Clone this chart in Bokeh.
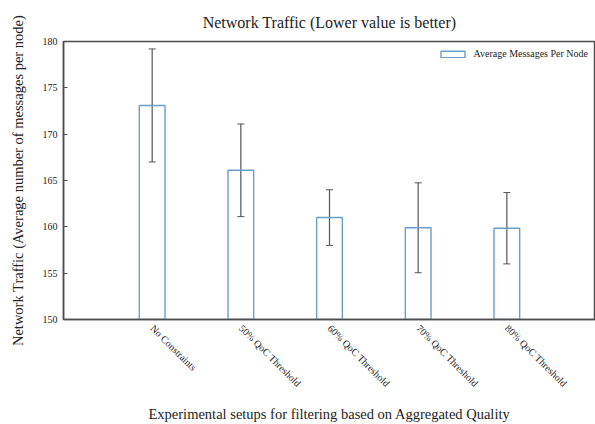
import math
from bokeh.plotting import figure
from bokeh.models import (ColumnDataSource, Whisker, FixedTicker, Range1d, Legend,
                          LegendItem, Title)
from bokeh.embed import file_html
from bokeh.resources import INLINE

categories = ["No Constraints", "50% QoC Threshold", "60% QoC Threshold",
              "70% QoC Threshold", "80% QoC Threshold"]
avg_messages = [173.1, 166.1, 161.0, 159.9, 159.85]
std_error = [6.1, 5.0, 3.0, 4.85, 3.85]
y_ticks = [150, 155, 160, 165, 170, 175, 180]

xs = list(range(1, len(categories) + 1))
src = ColumnDataSource(dict(
    x=xs, top=avg_messages,
    upper=[m + e for m, e in zip(avg_messages, std_error)],
    lower=[m - e for m, e in zip(avg_messages, std_error)],
))

FONT = "Liberation Serif"
AX = "#4d4d4d"
TXT = "#222222"

p = figure(width=595, height=424, output_backend="svg", toolbar_location=None,
           x_range=Range1d(0, len(categories) + 1), y_range=Range1d(150, 180),
           min_border_left=63, min_border_right=0, min_border_top=40, min_border_bottom=10)
p.title = Title(text="Network Traffic (Lower value is better)", align="center",
                text_font=FONT, text_font_size="16px", text_font_style="normal",
                text_color=TXT, standoff=22)

bars = p.vbar(x="x", top="top", bottom=150, width=0.29, source=src,
              fill_color=None, line_color="#6a9fc9", line_width=1.4)
w = Whisker(base="x", upper="upper", lower="lower", source=src,
            line_color="#555555", line_width=1.2)
w.upper_head.size = 7
w.lower_head.size = 7
w.upper_head.line_color = "#555555"
w.lower_head.line_color = "#555555"
p.add_layout(w)

p.grid.visible = False
p.outline_line_color = AX
p.outline_line_width = 1.5

xa = p.xaxis[0]
xa.ticker = FixedTicker(ticks=xs)
xa.major_label_overrides = {i: c for i, c in zip(xs, categories)}
xa.major_label_orientation = -math.pi / 4
xa.major_label_text_font = FONT
xa.major_label_text_font_size = "10px"
xa.major_label_text_color = TXT
xa.major_label_standoff = 1
xa.major_tick_line_color = None
xa.minor_tick_line_color = None
xa.axis_line_color = AX
xa.axis_line_width = 1.5
xa.axis_label = "Experimental setups for filtering based on Aggregated Quality"
xa.axis_label_text_font = FONT
xa.axis_label_text_font_size = "14.5px"
xa.axis_label_text_font_style = "normal"
xa.axis_label_text_color = TXT
xa.axis_label_standoff = 10

ya = p.yaxis[0]
ya.ticker = FixedTicker(ticks=y_ticks)
ya.major_tick_in = 4
ya.major_tick_out = 0
ya.minor_tick_line_color = None
ya.major_label_text_font = FONT
ya.major_label_text_font_size = "10px"
ya.major_label_text_color = TXT
ya.major_label_standoff = 6
ya.axis_line_color = AX
ya.axis_line_width = 1.5
ya.major_tick_line_color = AX
ya.axis_label = "Network Traffic (Average number of messages per node)"
ya.axis_label_text_font = FONT
ya.axis_label_text_font_size = "14.5px"
ya.axis_label_text_font_style = "normal"
ya.axis_label_text_color = TXT
ya.axis_label_standoff = 14

legend = Legend(items=[LegendItem(label="Average Messages Per Node", renderers=[bars])],
                location="top_right", border_line_color=None, background_fill_alpha=0,
                label_text_font=FONT, label_text_font_size="10px", label_text_color=TXT,
                glyph_width=30, glyph_height=8, label_standoff=6, padding=4, margin=7)
p.add_layout(legend)

open("out.html", "w").write(file_html(p, INLINE))
